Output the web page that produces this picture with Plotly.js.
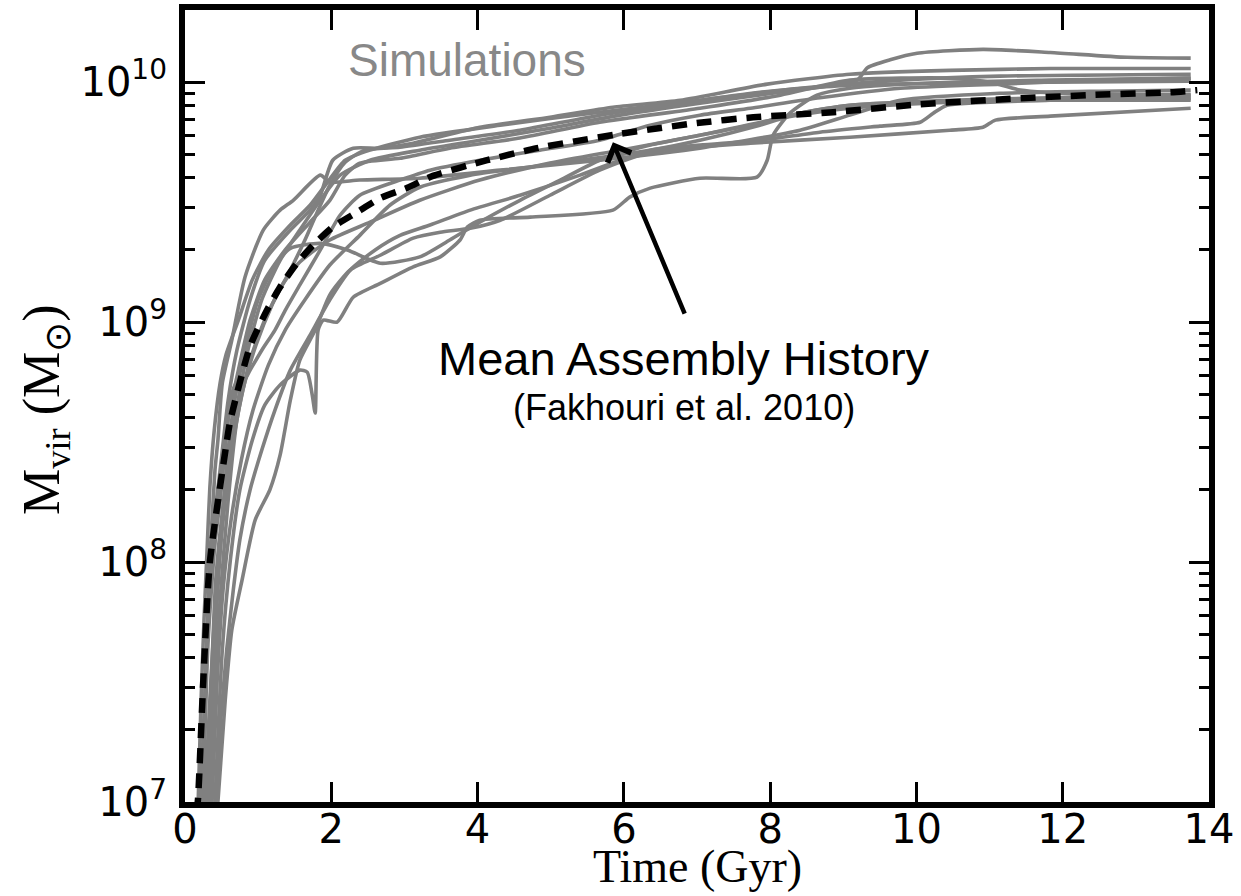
<!DOCTYPE html>
<html>
<head>
<meta charset="utf-8">
<script src="https://cdn.plot.ly/plotly-3.0.1.min.js"></script>
<style>html,body{margin:0;padding:0;background:#fff;}#chart{width:1241px;height:896px;}</style>
</head>
<body>
<div id="chart"></div>
<script>
// Time in Gyr, virial mass in solar masses
const sim1_t = [0.21,0.27,0.34,0.41,0.45,0.51,0.64,0.82,1.07,1.30,1.48,1.85,1.98,2.39,3.21,4.31,5.67,7.04,8.41,9.09,9.78,11.14,12.51,13.75];
const sim1_m = [1.0e7,2.66e7,1.02e8,2.42e8,3.22e8,5.57e8,8.41e8,1.54e9,2.42e9,2.93e9,3.22e9,4.10e9,3.83e9,3.91e9,3.98e9,4.30e9,4.73e9,5.31e9,6.31e9,7.29e9,8.41e9,8.99e9,9.17e9,9.27e9];

const sim2_t = [0.23,0.30,0.37,0.48,0.59,0.71,0.89,1.09,1.44,1.71,1.85,2.02,2.30,2.67,3.12,4.03,4.99,5.85,6.77,7.96,9.09,10.46,11.83,13.75];
const sim2_m = [1.0e7,4.30e7,1.24e8,2.42e8,4.73e8,7.64e8,1.24e9,1.81e9,2.42e9,2.93e9,3.38e9,4.73e9,5.31e9,5.31e9,5.57e9,6.49e9,7.15e9,7.87e9,8.41e9,9.82e9,1.08e10,1.12e10,1.14e10,1.14e10];

const sim3_t = [0.27,0.34,0.42,0.55,0.68,0.86,1.05,1.30,1.57,1.85,2.12,2.53,3.21,4.03,4.99,5.95,7.04,8.13,9.19,9.33,9.64,10.01,10.91,11.83,12.88,13.75];
const sim3_m = [1.0e7,2.66e7,6.95e7,1.81e8,3.91e8,7.64e8,1.24e9,1.81e9,2.42e9,3.22e9,4.10e9,4.73e9,5.21e9,5.73e9,6.43e9,7.29e9,8.18e9,9.08e9,1.02e10,1.15e10,1.24e10,1.32e10,1.37e10,1.33e10,1.27e10,1.26e10];

const sim4_t = [0.41,0.51,0.62,0.75,0.92,1.09,1.30,1.57,1.67,1.74,1.78,1.82,1.89,2.08,2.30,2.67,3.12,3.49,3.76,3.86,4.03,4.72,5.85,6.08,6.36,7.04,7.82,7.96,8.04,8.27,8.64,9.09,10.46,11.83,13.75];
const sim4_m = [1.0e7,4.30e7,1.02e8,2.00e8,3.22e8,4.51e8,5.47e8,6.31e8,6.19e8,4.96e8,4.18e8,9.27e8,1.02e9,1.00e9,1.27e9,1.45e9,1.70e9,1.87e9,2.20e9,2.49e9,2.66e9,2.74e9,2.93e9,3.32e9,3.62e9,3.98e9,4.02e9,4.73e9,6.01e9,7.43e9,8.83e9,9.44e9,1.00e10,1.02e10,1.04e10];

const sim5_t = [0.45,0.55,0.64,0.78,0.96,1.16,1.30,1.44,1.57,1.78,1.98,2.26,2.67,3.12,3.49,3.90,4.31,4.99,5.67,6.36,7.73,9.09,10.46,10.91,11.08,11.83,13.75];
const sim5_m = [1.0e7,2.66e7,5.21e7,8.41e7,1.50e8,2.00e8,2.79e8,4.73e8,6.95e8,9.27e8,1.30e9,1.65e9,1.90e9,2.24e9,2.37e9,2.46e9,2.66e9,3.38e9,4.30e9,5.11e9,5.57e9,5.90e9,6.31e9,6.49e9,6.95e9,7.22e9,7.79e9];

const sim6_t = [0.31,0.37,0.44,0.51,0.59,0.68,0.82,1.00,1.23,1.44,1.85,2.22,2.67,3.21,3.62,4.03,4.58,5.13,5.67,6.36,7.04,7.73,8.41,9.09,10.46,11.83,13.75];
const sim6_m = [1.0e7,2.66e7,6.95e7,1.50e8,2.93e8,4.73e8,7.64e8,1.24e9,1.73e9,2.03e9,2.13e9,2.00e9,1.76e9,1.87e9,2.20e9,2.61e9,3.22e9,3.91e9,4.73e9,5.47e9,6.01e9,6.62e9,7.43e9,8.02e9,8.33e9,8.41e9,8.41e9];

const sim7_t = [0.25,0.31,0.40,0.48,0.59,0.73,0.89,1.09,1.37,1.71,1.98,2.19,2.39,2.94,3.62,4.58,5.67,7.04,8.14,9.09,10.46,11.01,11.42,12.33,13.75];
const sim7_m = [1.0e7,4.30e7,1.12e8,2.20e8,3.91e8,6.31e8,1.02e9,1.50e9,2.00e9,2.61e9,3.22e9,4.10e9,4.60e9,4.82e9,5.31e9,5.85e9,6.81e9,7.79e9,8.83e9,1.02e10,1.04e10,1.00e10,9.27e9,8.91e9,8.91e9];

const sim8_t = [0.34,0.40,0.48,0.59,0.71,0.89,1.09,1.33,1.57,1.98,2.53,3.21,4.03,4.99,5.95,7.04,8.14,9.09,10.46,11.83,13.75];
const sim8_m = [1.0e7,2.66e7,6.95e7,1.81e8,3.91e8,6.95e8,1.02e9,1.43e9,1.78e9,2.20e9,2.61e9,3.22e9,3.91e9,4.60e9,5.21e9,6.01e9,7.08e9,7.79e9,8.25e9,8.45e9,8.61e9];

const sim9_t = [0.18,0.22,0.26,0.30,0.34,0.40,0.48,0.56,0.73,0.92,1.14,1.44,1.71,1.94,2.19,2.53,3.21,4.31,5.67,7.04,8.41,9.78,11.14,13.75];
const sim9_m = [1.0e7,2.66e7,5.73e7,1.09e8,2.05e8,3.55e8,5.57e8,7.29e8,1.02e9,1.50e9,2.00e9,2.54e9,3.07e9,3.80e9,4.73e9,5.21e9,5.90e9,6.62e9,7.50e9,8.41e9,9.44e9,1.02e10,1.06e10,1.08e10];

const sim10_t = [0.29,0.36,0.42,0.53,0.66,0.79,0.97,1.19,1.44,1.64,1.82,1.98,2.19,2.46,2.94,3.62,4.58,5.67,6.77,7.86,9.09,10.46,11.83,13.75];
const sim10_m = [1.0e7,3.22e7,8.41e7,1.81e8,3.22e8,5.21e8,8.02e8,1.18e9,1.65e9,2.20e9,2.93e9,3.72e9,4.64e9,5.21e9,5.36e9,5.73e9,6.31e9,7.29e9,8.18e9,9.08e9,9.72e9,9.91e9,1.00e10,1.01e10];

const sim11_t = [0.42,0.49,0.57,0.66,0.75,0.89,1.05,1.23,1.44,1.71,1.98,2.26,2.60,2.94,3.35,3.90,4.58,5.40,5.95,6.36,7.04,7.86,8.68,9.50,10.05,10.23,10.42,11.83,13.75];
const sim11_m = [1.0e7,2.20e7,4.30e7,7.64e7,1.24e8,2.00e8,2.93e8,4.30e8,6.31e8,8.83e8,1.24e9,1.65e9,2.00e9,2.30e9,2.54e9,2.93e9,3.38e9,4.10e9,4.73e9,5.21e9,5.47e9,5.73e9,6.19e9,6.56e9,6.81e9,7.43e9,8.02e9,8.41e9,8.53e9];

const sim12_t = [0.37,0.44,0.52,0.63,0.77,0.93,1.14,1.37,1.64,1.98,2.39,2.80,3.21,3.90,4.58,5.40,6.36,7.04,7.86,8.41,9.09,10.46,11.83,13.75];
const sim12_m = [1.0e7,3.22e7,7.64e7,1.50e8,2.66e8,4.30e8,6.62e8,9.27e8,1.24e9,1.73e9,2.30e9,3.07e9,3.65e9,4.10e9,4.38e9,4.73e9,5.21e9,5.73e9,6.62e9,7.43e9,8.02e9,8.41e9,8.61e9,8.83e9];

const sim13_t = [0.21,0.26,0.31,0.38,0.48,0.56,0.62,0.70,0.77,0.89,1.05,1.23,1.37,1.57,1.85,2.12,2.39,2.94,3.35,4.03,4.85,5.67,6.36,7.04,7.73,8.68,9.78,11.14,12.51,13.75];
const sim13_m = [1.0e7,2.20e7,5.73e7,1.02e8,1.81e8,3.22e8,4.73e8,5.57e8,5.47e8,6.31e8,7.64e8,9.27e8,1.12e9,1.43e9,2.00e9,2.79e9,3.38e9,3.91e9,4.30e9,4.73e9,5.21e9,5.73e9,6.62e9,7.29e9,7.79e9,8.61e9,9.44e9,9.82e9,1.02e10,1.04e10];

// Mean assembly history (Fakhouri et al. 2010)
const mean_t = [0.16,0.18,0.25,0.34,0.57,0.62,0.89,1.12,1.30,1.53,1.75,2.02,2.35,2.67,3.04,3.39,4.13,4.81,5.91,7.00,7.77,8.86,10.05,11.18,12.33,13.47,13.84];
const mean_m = [9.0e6,1.05e7,3.2e7,1.0e8,3.16e8,3.89e8,7.94e8,1.12e9,1.40e9,1.76e9,2.09e9,2.49e9,2.87e9,3.29e9,3.63e9,4.07e9,4.73e9,5.31e9,6.07e9,6.76e9,7.14e9,7.50e9,8.09e9,8.49e9,8.83e9,9.08e9,9.27e9];

const xTickVals = [0,2,4,6,8,10,12,14];
const xTickText = ['0','2','4','6','8','10','12','14'];
const yTickVals = [1e7,1e8,1e9,1e10];
const yTickText = ['10<sup>7</sup>','10<sup>8</sup>','10<sup>9</sup>','10<sup>10</sup>'];

// annotation arrow: head and tail in data units (Gyr, solar masses)
const arrowHead = {t: 5.85, m: 5.62e9};
const arrowTail = {t: 6.84, m: 1.07e9};

const sims = [
  [sim1_t, sim1_m],[sim2_t, sim2_m],[sim3_t, sim3_m],[sim4_t, sim4_m],
  [sim5_t, sim5_m],[sim6_t, sim6_m],[sim7_t, sim7_m],[sim8_t, sim8_m],
  [sim9_t, sim9_m],[sim10_t, sim10_m],[sim11_t, sim11_m],[sim12_t, sim12_m],
  [sim13_t, sim13_m]
];

const traces = sims.map(function(s, i){
  return {
    x: s[0], y: s[1], type: 'scatter', mode: 'lines',
    name: 'Simulation ' + (i+1),
    line: {color: 'rgb(128,128,128)', width: 3.6, shape: 'spline', smoothing: 0.6},
    hoverinfo: 'skip'
  };
});
traces.push({
  x: mean_t, y: mean_m, type: 'scatter', mode: 'lines',
  name: 'Mean Assembly History',
  line: {color: 'black', width: 6.5, dash: '15px,10px', shape: 'spline', smoothing: 0.6},
  hoverinfo: 'skip'
});

const minorVals = [];
for (let p = 7; p <= 10; p++) {
  for (let k = 2; k <= 9; k++) minorVals.push(k * Math.pow(10, p));
}

const layout = {
  width: 1241, height: 896,
  margin: {l: 185, r: 32, t: 10, b: 94, pad: 0},
  paper_bgcolor: 'white', plot_bgcolor: 'white',
  showlegend: false,
  xaxis: {
    range: [0, 14], tickmode: 'array', tickvals: xTickVals, ticktext: xTickText,
    ticks: 'inside', ticklen: 20, tickwidth: 3, tickcolor: 'black',
    showline: true, linewidth: 6, linecolor: 'black', mirror: 'allticks',
    showgrid: false, zeroline: false, automargin: false,
    tickfont: {family: 'DejaVu Sans', size: 40, color: 'black'},
    ticklabelstandoff: -13
  },
  yaxis: {
    type: 'log', range: [7, 10.301], tickmode: 'array', tickvals: yTickVals, ticktext: yTickText,
    ticks: 'inside', ticklen: 20, tickwidth: 3, tickcolor: 'black',
    showline: true, linewidth: 6, linecolor: 'black', mirror: 'allticks',
    showgrid: false, zeroline: false, automargin: false,
    tickfont: {family: 'DejaVu Sans', size: 40, color: 'black'},
    ticklabelstandoff: 4,
    minor: {tickmode: 'array', tickvals: minorVals, ticks: 'inside', ticklen: 10, tickwidth: 3, tickcolor: 'black', showgrid: false}
  },
  annotations: [
    {xref: 'paper', yref: 'paper', x: 0.5, y: -0.081, text: 'Time (Gyr)', showarrow: false,
     xanchor: 'center', yanchor: 'middle', font: {family: 'Liberation Serif', size: 46, color: 'black'}},
    {xref: 'paper', yref: 'paper', x: -0.1367, y: 0.4949, text: 'M<sub>vir</sub> (M<sub>⊙</sub>)', showarrow: false,
     textangle: -90, xanchor: 'center', yanchor: 'middle', font: {family: 'Liberation Serif', size: 52, color: 'black'}},
    {xref: 'paper', yref: 'paper', x: 0.2754, y: 0.9369, text: 'Simulations', showarrow: false,
     xanchor: 'center', yanchor: 'middle', font: {family: 'Liberation Sans', size: 46, color: 'rgb(136,136,136)'}},
    {xref: 'paper', yref: 'paper', x: 0.4873, y: 0.5606, text: 'Mean Assembly History', showarrow: false,
     xanchor: 'center', yanchor: 'middle', font: {family: 'Liberation Sans', size: 47, color: 'black'}},
    {xref: 'paper', yref: 'paper', x: 0.4873, y: 0.4975, text: '(Fakhouri et al. 2010)', showarrow: false,
     xanchor: 'center', yanchor: 'middle', font: {family: 'Liberation Sans', size: 36, color: 'black'}},
    {xref: 'x', yref: 'y', x: arrowHead.t, y: Math.log10(arrowHead.m),
     axref: 'x', ayref: 'y', ax: arrowTail.t, ay: Math.log10(arrowTail.m),
     text: '', showarrow: true, arrowhead: 4, arrowsize: 1.1, arrowwidth: 4.5, arrowcolor: 'black', standoff: 0, startstandoff: 0}
  ]
};

Plotly.newPlot('chart', traces, layout, {displayModeBar: false, staticPlot: true});
</script>
</body>
</html>
